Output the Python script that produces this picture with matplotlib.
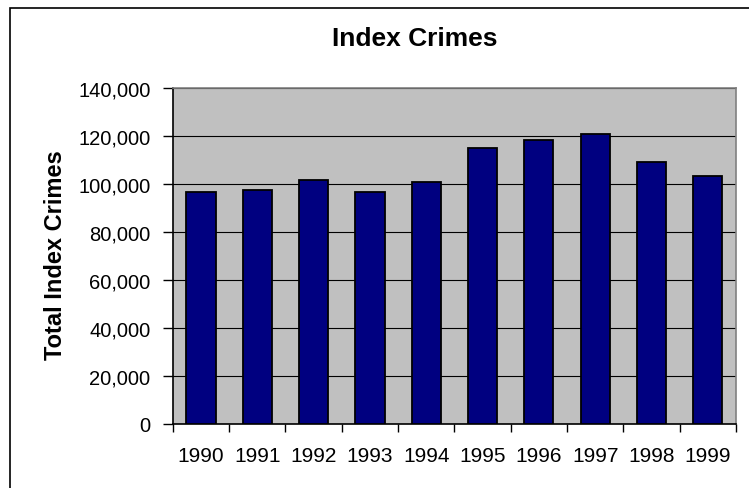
import matplotlib.pyplot as plt
from matplotlib.patches import Rectangle
from matplotlib.ticker import FuncFormatter, FixedLocator
import numpy as np

years = ['1990', '1991', '1992', '1993', '1994',
         '1995', '1996', '1997', '1998', '1999']
crimes = [96500, 97500, 101700, 96700, 100700,
          115000, 118300, 120800, 109300, 103300]

plt.rcParams['font.family'] = ['Liberation Sans', 'DejaVu Sans']

fig = plt.figure(figsize=(7.49, 4.89), dpi=100)
ax = fig.add_axes([0.2306, 0.1309, 0.7520, 0.6871])

# outer chart border (extends past the right and bottom edges)
fig.patches.append(Rectangle((10 / 749, -0.05), 1.1, 1 - 9 / 489 + 0.05,
                             transform=fig.transFigure, fill=False,
                             edgecolor='black', linewidth=1.2))

ax.set_facecolor('#C0C0C0')
x = np.arange(len(years))
ax.bar(x, crimes, width=0.52, color='#000080', edgecolor='black',
       linewidth=1.3, zorder=3)

ax.set_xlim(-0.5, len(years) - 0.5)
ax.set_ylim(0, 140000)
ax.set_yticks(np.arange(0, 140001, 20000))
ax.yaxis.set_major_formatter(FuncFormatter(lambda v, p: f'{int(v):,}'))
ax.grid(axis='y', color='black', linewidth=0.8, zorder=1)

ax.set_xticks(x)
ax.set_xticklabels(years)
ax.xaxis.set_minor_locator(FixedLocator(np.arange(-0.5, len(years), 1.0)))
ax.tick_params(axis='x', which='major', length=0, pad=16, labelsize=15)
ax.tick_params(axis='x', which='minor', length=6, width=1, direction='out')
ax.tick_params(axis='y', length=7, width=1, direction='out', pad=9,
               labelsize=14.5)

for side in ['left', 'bottom']:
    ax.spines[side].set_color('black')
    ax.spines[side].set_linewidth(1.2)
for side in ['top', 'right']:
    ax.spines[side].set_color('#808080')
    ax.spines[side].set_linewidth(1.2)

fig.text(415 / 749, 1 - 39 / 489, 'Index Crimes', ha='center', va='center',
         fontsize=19, fontweight='bold')
fig.text(55 / 749, 1 - 255 / 489, 'Total Index Crimes', ha='center',
         va='center', rotation=90, fontsize=17, fontweight='bold')

fig.savefig('out.png', dpi=100)
